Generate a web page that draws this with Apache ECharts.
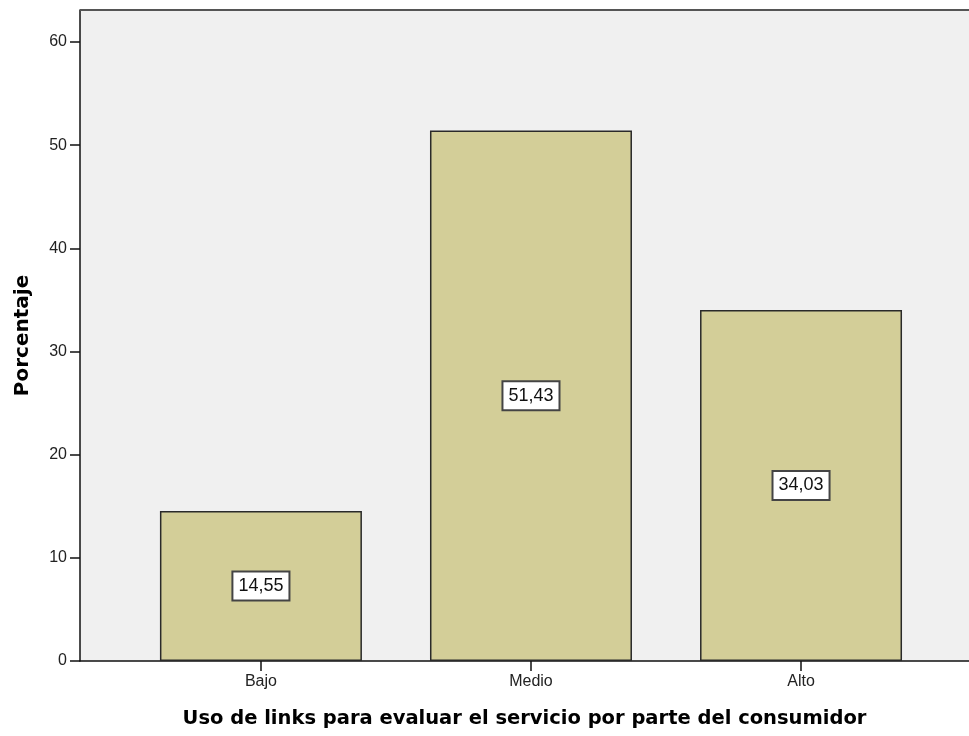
<!DOCTYPE html>
<html><head><meta charset="utf-8">
<script src="https://cdn.jsdelivr.net/npm/echarts@6/dist/echarts.min.js"></script>
<style>html,body{margin:0;padding:0;background:#fff}#c{width:969px;height:736px}</style>
</head><body><div id="c"></div>
<script>
var categories = ['Bajo', 'Medio', 'Alto'];
var values = [14.55, 51.43, 34.03];
var yTicks = [0, 10, 20, 30, 40, 50, 60];

var chart = echarts.init(document.getElementById('c'), null, {renderer: 'canvas'});
var catIdx = categories.map(function (c, i) { return i; });
chart.setOption({
  animation: false,
  backgroundColor: '#ffffff',
  grid: {left: 80, right: 0, top: 10, bottom: 75, show: true, backgroundColor: '#f0f0f0', borderWidth: 0},
  xAxis: {
    type: 'value', min: -0.67, max: 2.622,
    splitLine: {show: false},
    axisLine: {show: true, onZero: false, lineStyle: {color: '#111', width: 1.5}},
    axisTick: {show: true, customValues: catIdx, length: 10, lineStyle: {color: '#111', width: 1.5}},
    axisLabel: {show: true, customValues: catIdx, formatter: function (v) { return categories[Math.round(v)]; },
      color: '#222', fontFamily: 'Liberation Sans, Arial', fontSize: 16, margin: 13},
    name: 'Uso de links para evaluar el servicio por parte del consumidor',
    nameLocation: 'middle', nameGap: 48,
    nameTextStyle: {fontFamily: 'DejaVu Sans', fontWeight: 'bold', fontSize: 19.5, color: '#000'}
  },
  yAxis: {
    type: 'value', min: 0, max: 63.1,
    axisLine: {show: true, onZero: false, lineStyle: {color: '#111', width: 1.5}},
    axisTick: {show: true, customValues: yTicks, length: 10, lineStyle: {color: '#111', width: 1.5}},
    axisLabel: {show: true, customValues: yTicks, color: '#222', fontFamily: 'Liberation Sans, Arial', fontSize: 16, margin: 13},
    splitLine: {show: false},
    name: 'Porcentaje', nameLocation: 'middle', nameGap: 47, nameRotate: 90,
    nameTextStyle: {fontFamily: 'DejaVu Sans', fontWeight: 'bold', fontSize: 20, color: '#000'}
  },
  graphic: [{
    type: 'line', shape: {x1: 80, y1: 10, x2: 969, y2: 10},
    style: {stroke: '#555', lineWidth: 2}, z: 100
  }],
  series: [{
    type: 'bar',
    data: values.map(function (v, i) { return [i, v]; }),
    barWidth: 202,
    itemStyle: {color: '#d3ce98', borderColor: '#2a2a2a', borderWidth: 1.5},
    label: {
      show: true, position: 'inside',
      formatter: function (p) { return p.value[1].toFixed(2).replace('.', ','); },
      color: '#111', fontFamily: 'Liberation Sans, Arial', fontSize: 18,
      backgroundColor: '#fff', borderColor: '#444', borderWidth: 2,
      padding: [5, 5, 4, 5]
    }
  }]
});
</script></body></html>
